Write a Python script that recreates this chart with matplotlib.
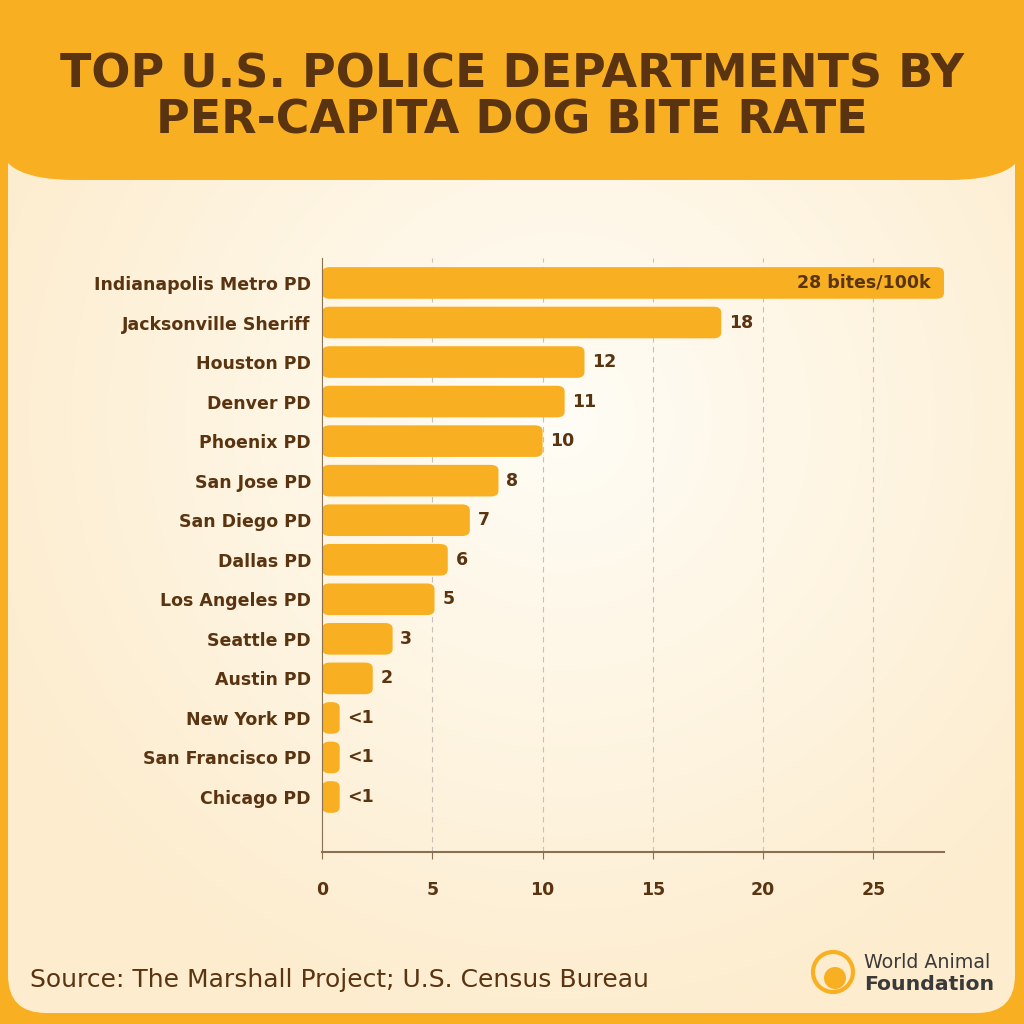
import numpy as np
import matplotlib
matplotlib.use("Agg")
import matplotlib.pyplot as plt
from matplotlib.patches import FancyBboxPatch, Circle

departments = ["Indianapolis Metro PD", "Jacksonville Sheriff", "Houston PD", "Denver PD",
               "Phoenix PD", "San Jose PD", "San Diego PD", "Dallas PD", "Los Angeles PD",
               "Seattle PD", "Austin PD", "New York PD", "San Francisco PD", "Chicago PD"]
bite_rate = [28.2, 18.1, 11.9, 11.0, 10.0, 8.0, 6.7, 5.7, 5.1, 3.2, 2.3, 0.8, 0.8, 0.8]
value_labels = ["28 bites/100k", "18", "12", "11", "10", "8", "7", "6", "5", "3", "2", "<1", "<1", "<1"]
x_ticks = [0, 5, 10, 15, 20, 25]

ORANGE = "#F8B022"
BROWN = "#5A3410"
plt.rcParams['font.family'] = ["DejaVu Sans"]

fig = plt.figure(figsize=(10.24, 10.24), dpi=100)
renderer = fig.canvas.get_renderer()


def fit_width(txt, target_px):
    # shrink/grow the font so the text spans target_px
    w = txt.get_window_extent(renderer).width
    txt.set_fontsize(txt.get_fontsize() * target_px / w)


# background / frame
bg = fig.add_axes([0, 0, 1, 1])
bg.set_xlim(0, 1024)
bg.set_ylim(1024, 0)
bg.axis("off")
bg.add_patch(plt.Rectangle((0, 0), 1024, 1024, color=ORANGE, zorder=0))
panel = FancyBboxPatch((8, 100), 1007, 913, boxstyle="round,pad=0,rounding_size=38",
                       facecolor="none", edgecolor="none", zorder=1)
bg.add_patch(panel)
yy, xx = np.mgrid[0:1024, 0:1024]
d = np.sqrt(((xx - 560) / 640.0) ** 2 + ((yy - 420) / 640.0) ** 2)
d = np.clip(d, 0, 1)
c0 = np.array([255, 253, 246]) / 255.0
c1 = np.array([253, 236, 205]) / 255.0
img = c0[None, None, :] * (1 - d[..., None]) + c1[None, None, :] * d[..., None]
im = bg.imshow(img, extent=(0, 1024, 1024, 0), zorder=1, interpolation="bilinear")
im.set_clip_path(panel)
header = FancyBboxPatch((0, -100), 1024, 280, boxstyle="round,pad=0,rounding_size=75",
                        mutation_aspect=0.5, facecolor=ORANGE, edgecolor="none", zorder=2)
bg.add_patch(header)
bg.set_xlim(0, 1024)
bg.set_ylim(1024, 0)

t1 = bg.text(512, 88, "TOP U.S. POLICE DEPARTMENTS BY", ha="center", va="baseline",
             fontsize=33, fontweight="bold", color=BROWN, zorder=3)
fit_width(t1, 905)
t2 = bg.text(512, 134, "PER-CAPITA DOG BITE RATE", ha="center", va="baseline",
             fontsize=t1.get_fontsize(), fontweight="bold", color=BROWN, zorder=3)
src = bg.text(30, 980, "Source: The Marshall Project; U.S. Census Bureau", ha="left", va="center",
              fontsize=17, color=BROWN, zorder=3)
fit_width(src, 618)

# logo
bg.add_patch(Circle((833, 972), 20, facecolor="none", edgecolor=ORANGE, lw=3, zorder=3))
bg.add_patch(Circle((835, 978), 11, facecolor=ORANGE, edgecolor="none", zorder=3))
w1 = bg.text(864, 962, "World Animal", ha="left", va="center", fontsize=13.5,
             color="#3a3a3a", zorder=3)
fit_width(w1, 126)
w2 = bg.text(864, 985, "Foundation", ha="left", va="center", fontsize=15.5,
             fontweight="bold", color="#3a3a3a", zorder=3)
fit_width(w2, 129)

# chart
ax = fig.add_axes([0.3145, 0.168, 0.6074, 0.580])
ax.patch.set_alpha(0)
y = np.arange(len(departments))
bars = ax.barh(y, bite_rate, height=0.8, color="none")
for b in bars:
    x0, y0 = b.get_x(), b.get_y()
    w, h = b.get_width(), b.get_height()
    ax.add_patch(FancyBboxPatch((x0, y0), w, h, boxstyle="round,pad=0,rounding_size=0.35",
                                mutation_aspect=0.8 / 0.35 * 0.18,
                                facecolor=ORANGE, edgecolor="none", zorder=2))
ax.set_xlim(0, 28.2)
ax.set_ylim(14.39, -0.63)
ax.set_yticks(y)
ax.set_yticklabels(departments, fontsize=12.5, fontweight="bold", color=BROWN)
ax.set_xticks(x_ticks)
ax.set_xticklabels([str(t) for t in x_ticks], fontsize=12.5, fontweight="bold", color=BROWN)
ax.tick_params(axis="y", length=0, pad=8)
ax.tick_params(axis="x", length=5, color="#8a7050", pad=16)
for s in ["top", "right"]:
    ax.spines[s].set_visible(False)
ax.spines["left"].set_color("#8a7050")
ax.spines["bottom"].set_color("#8a7050")
ax.spines["bottom"].set_linewidth(1.5)
for t in x_ticks[1:]:
    ax.axvline(t, color="#c8c0b4", lw=0.8, ls=(0, (5, 4)), zorder=1)

for i, (v, lab) in enumerate(zip(bite_rate, value_labels)):
    if i == 0:
        ax.text(v - 0.6, i, lab, ha="right", va="center", fontsize=12.5,
                fontweight="bold", color=BROWN, zorder=3)
    else:
        ax.text(v + 0.35, i, lab, ha="left", va="center", fontsize=12.5,
                fontweight="bold", color=BROWN, zorder=3)

fig.savefig("out.png", dpi=100)
